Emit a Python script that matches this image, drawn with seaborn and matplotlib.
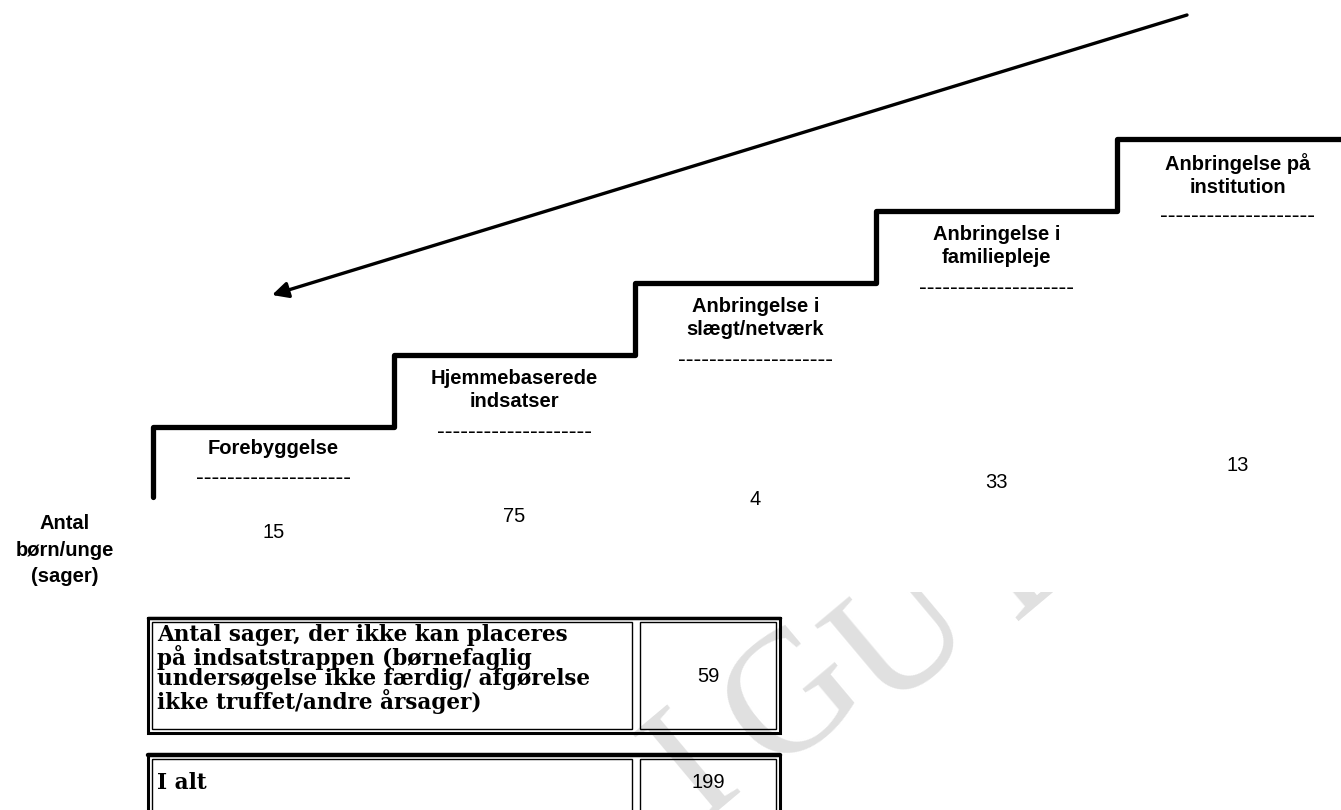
import numpy as np
import pandas as pd
import seaborn as sns
import matplotlib.pyplot as plt
from matplotlib.patches import Rectangle
from matplotlib.transforms import Bbox, TransformedBbox

# Data: steps on the "indsatstrappe" and number of cases on each step
steps = ['Forebyggelse', 'Hjemmebaserede\nindsatser', 'Anbringelse i\nslægt/netværk',
         'Anbringelse i\nfamiliepleje', 'Anbringelse på\ninstitution']
counts = [15, 75, 4, 33, 13]
row_label = 'Antal\nbørn/unge\n(sager)'
unplaced_text = ('Antal sager, der ikke kan placeres\npå indsatstrappen (børnefaglig\n'
                 'undersøgelse ikke færdig/ afgørelse\nikke truffet/andre årsager)')
unplaced_count = 59
total_text = 'I alt'
total_count = 199

sns.set_theme(style='white')
plt.rcParams['font.family'] = ['Liberation Sans', 'DejaVu Sans']
plt.rcParams['text.color'] = 'black'

fig = plt.figure(figsize=(13.41, 8.10), dpi=100)
ax = fig.add_axes([0, 0, 1, 1])

# layout of the staircase (pixel units)
x0, step_w, base_y, rise, first_top = 153, 241, 497, 72, 427
n = len(steps)
step_left = [x0 + i * step_w for i in range(n)]
step_top = [first_top - i * rise for i in range(n)]

# corner points of the stair line
px, py = [x0], [base_y]
for i in range(n):
    px += [step_left[i], step_left[i] + step_w if i < n - 1 else 1341]
    py += [step_top[i], step_top[i]]
stair = pd.DataFrame({'x': px, 'y': py})
sns.lineplot(data=stair, x='x', y='y', sort=False, estimator=None, color='black',
             lw=3.8, ax=ax, legend=False)
ax.set_xlim(0, 1341)
ax.set_ylim(810, 0)
ax.axis('off')

# step labels, dashed rules and counts
for i, (lab, c) in enumerate(zip(steps, counts)):
    cx = step_left[i] + step_w / 2
    nl = lab.count('\n') + 1
    ax.text(cx, step_top[i] + 12 + (2 if nl > 1 else 0), lab, ha='center', va='top',
            fontsize=14.5, fontweight='bold', linespacing=1.25)
    ax.text(cx, step_top[i] + 25 + 26 * nl, '-' * 20, ha='center', va='center',
            fontsize=17)
    ax.text(cx, 533 - i * 16.8, str(c), ha='center', va='center', fontsize=14.5)

ax.text(65, 550, row_label, ha='center', va='center', fontsize=14.5,
        fontweight='bold', linespacing=1.5)

# long arrow pointing down towards the lower steps
ax.annotate('', xy=(272, 295), xytext=(1187, 15),
            arrowprops=dict(arrowstyle='-|>', lw=2.4, color='black',
                            mutation_scale=24, shrinkA=0, shrinkB=0))


def double_box(x, y, w, h, top_lw=2.5):
    ax.add_patch(Rectangle((x, y), w, h, fill=False, ec='black', lw=2.2))
    ax.plot([x, x + w], [y, y], color='black', lw=top_lw)


def cell(x, y, w, h):
    ax.add_patch(Rectangle((x + 4, y + 4), w - 8, h - 8, fill=False, ec='black', lw=1.0))


serif = ['DejaVu Serif']
# table: cases that cannot be placed
tx, tw, tdiv = 148, 632, 488
double_box(tx, 618, tw, 115)
cell(tx, 618, tdiv, 115)
cell(tx + tdiv, 618, tw - tdiv, 115)
ax.text(157, 669, unplaced_text, ha='left', va='center', fontsize=15.5,
        fontweight='bold', family=serif, linespacing=0.93)
ax.text(tx + tdiv + (tw - tdiv) / 2, 677, str(unplaced_count), ha='center',
        va='center', fontsize=14.5)

# table: total
double_box(tx, 755, tw, 70, top_lw=3.2)
cell(tx, 755, tdiv, 70)
cell(tx + tdiv, 755, tw - tdiv, 70)
ax.text(157, 783, total_text, ha='left', va='center', fontsize=15.5,
        fontweight='bold', family=serif)
ax.text(tx + tdiv + (tw - tdiv) / 2, 783, str(total_count), ha='center',
        va='center', fontsize=14.5)

# faint watermark, only visible in the lower part of the page
clip = TransformedBbox(Bbox([[0, 592], [1341, 900]]), ax.transData)
for ch, (wx, wy) in zip('IGUD', [(695, 770), (795, 700), (905, 640), (1035, 548)]):
    t = ax.text(wx, wy, ch, ha='center', va='center', fontsize=125, color='#e0e0e0',
                family=['Liberation Serif'], rotation=40, zorder=0, clip_on=True)
    t.set_clip_box(clip)

fig.savefig('out.png', dpi=100)
